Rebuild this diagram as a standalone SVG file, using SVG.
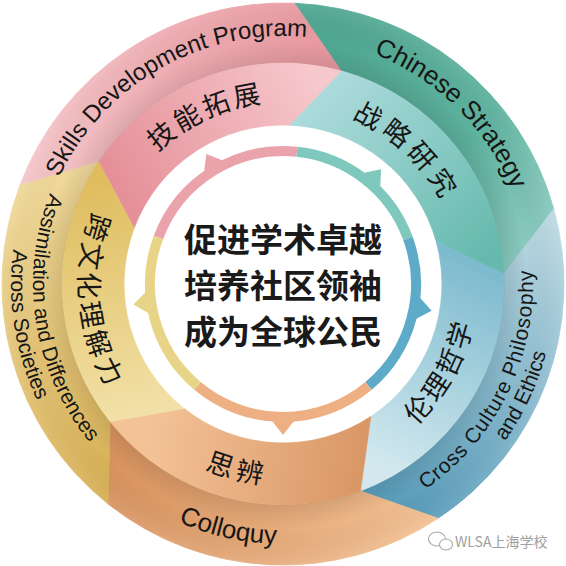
<svg xmlns="http://www.w3.org/2000/svg" width="566" height="566" viewBox="0 0 566 566">
<style>
.en{font-family:"Liberation Sans",Arial,sans-serif;fill:#161616}
.cn{font-family:"Noto Sans CJK SC","Noto Sans",sans-serif;fill:#161616;font-size:27px}
.ctr{font-family:"Noto Sans CJK SC","Noto Sans",sans-serif;font-weight:700;font-size:33px;fill:#1a1a1a;text-anchor:middle}
.ring{fill:none;stroke-width:10}
.wm{font-family:"Noto Sans CJK SC","Liberation Sans",sans-serif;font-size:14px;fill:#a0a0a0}
</style>
<defs>
<linearGradient id="gPo" gradientUnits="userSpaceOnUse" x1="30" y1="190" x2="320" y2="30"><stop offset="0" stop-color="#F5C6C9"/><stop offset="1" stop-color="#E999A1"/></linearGradient>
<linearGradient id="gPi" gradientUnits="userSpaceOnUse" x1="120" y1="200" x2="320" y2="90"><stop offset="0" stop-color="#E58F98"/><stop offset="1" stop-color="#F6C8CC"/></linearGradient>
<linearGradient id="gTo" gradientUnits="userSpaceOnUse" x1="330" y1="20" x2="540" y2="240"><stop offset="0" stop-color="#4FA791"/><stop offset="0.6" stop-color="#5DB29E"/><stop offset="1" stop-color="#8CCBC1"/></linearGradient>
<linearGradient id="gTi" gradientUnits="userSpaceOnUse" x1="320" y1="100" x2="480" y2="260"><stop offset="0" stop-color="#ABDADB"/><stop offset="1" stop-color="#66BAAD"/></linearGradient>
<linearGradient id="gBo" gradientUnits="userSpaceOnUse" x1="550" y1="220" x2="420" y2="510"><stop offset="0" stop-color="#BCD9E2"/><stop offset="1" stop-color="#5B9EBB"/></linearGradient>
<linearGradient id="gBi" gradientUnits="userSpaceOnUse" x1="470" y1="260" x2="370" y2="460"><stop offset="0" stop-color="#7DBACE"/><stop offset="1" stop-color="#D2E8EE"/></linearGradient>
<linearGradient id="gOo" gradientUnits="userSpaceOnUse" x1="440" y1="520" x2="110" y2="470"><stop offset="0" stop-color="#F3C294"/><stop offset="1" stop-color="#D8935F"/></linearGradient>
<linearGradient id="gOi" gradientUnits="userSpaceOnUse" x1="365" y1="450" x2="150" y2="415"><stop offset="0" stop-color="#DA9766"/><stop offset="1" stop-color="#F3C397"/></linearGradient>
<linearGradient id="gGo" gradientUnits="userSpaceOnUse" x1="105" y1="500" x2="25" y2="190"><stop offset="0" stop-color="#D6AF52"/><stop offset="1" stop-color="#F0D899"/></linearGradient>
<linearGradient id="gGi" gradientUnits="userSpaceOnUse" x1="160" y1="415" x2="110" y2="175"><stop offset="0" stop-color="#F2E1A8"/><stop offset="1" stop-color="#DFBD5E"/></linearGradient>
<radialGradient id="shade" gradientUnits="userSpaceOnUse" cx="283" cy="284" r="281"><stop offset="0" stop-color="#000" stop-opacity="0"/><stop offset="0.785" stop-color="#000" stop-opacity="0"/><stop offset="0.787" stop-color="#000" stop-opacity="0.09"/><stop offset="0.87" stop-color="#000" stop-opacity="0"/><stop offset="1" stop-color="#fff" stop-opacity="0.08"/></radialGradient>
<path id="tSkills" d="M49.23,366.78 A248,248 0 0 1 474.36,126.25"/>
<path id="tChinese" d="M139.28,82.10 A248,248 0 0 1 487.14,424.82"/>
<path id="tCross1" d="M214.09,524.32 A250,250 0 0 0 429.95,81.75"/>
<path id="tCross2" d="M212.60,546.73 A272,272 0 0 0 439.01,61.19"/>
<path id="tColl" d="M23.27,272.21 A260,260 0 0 0 523.03,383.92"/>
<path id="tAss1" d="M201.61,47.62 A250,250 0 0 0 278.64,533.96"/>
<path id="tAss2" d="M194.45,26.82 A272,272 0 0 0 278.25,555.96"/>
<path id="cSkills" d="M106.96,330.18 A182,182 0 0 1 432.63,180.39"/>
<path id="cStrat" d="M175.27,141.04 A179,179 0 0 1 433.12,381.49"/>
<path id="cEth" d="M219.84,467.43 A194,194 0 0 0 405.09,133.23"/>
<path id="cColl" d="M82.44,270.68 A201,201 0 0 0 466.91,365.11"/>
<path id="cCross" d="M228.83,87.32 A204,204 0 0 0 266.64,487.34"/>
</defs>
<rect width="566" height="566" fill="#fff"/>

<g id="node-skills">
<path d="M19.80,185.59 A281,281 0 0 1 295.26,3.27 L342.06,71.04 A221,221 0 0 0 98.71,162.02 Z" fill="url(#gPo)" stroke="url(#gPo)" stroke-width="0.8"/>
<path d="M98.71,162.02 A221,221 0 0 1 342.06,71.04 L289.94,125.15 A159,159 0 0 0 134.07,228.32 Z" fill="url(#gPi)" stroke="url(#gPi)" stroke-width="0.8"/>
</g>
<g id="node-strategy">
<path d="M295.26,3.27 A281,281 0 0 1 553.78,208.91 L503.79,274.36 A221,221 0 0 0 342.06,71.04 Z" fill="url(#gTo)" stroke="url(#gTo)" stroke-width="0.8"/>
<path d="M342.06,71.04 A221,221 0 0 1 503.79,274.36 L436.22,241.51 A159,159 0 0 0 289.94,125.15 Z" fill="url(#gTi)" stroke="url(#gTi)" stroke-width="0.8"/>
</g>
<g id="node-ethics">
<path d="M553.78,208.91 A281,281 0 0 1 438.10,518.32 L360.40,491.00 A221,221 0 0 0 503.79,274.36 Z" fill="url(#gBo)" stroke="url(#gBo)" stroke-width="0.8"/>
<path d="M503.79,274.36 A221,221 0 0 1 360.40,491.00 L370.76,416.59 A159,159 0 0 0 436.22,241.51 Z" fill="url(#gBi)" stroke="url(#gBi)" stroke-width="0.8"/>
</g>
<g id="node-colloquy">
<path d="M438.10,518.32 A281,281 0 0 1 108.07,503.91 L110.04,421.57 A221,221 0 0 0 360.40,491.00 Z" fill="url(#gOo)" stroke="url(#gOo)" stroke-width="0.8"/>
<path d="M360.40,491.00 A221,221 0 0 1 110.04,421.57 L184.02,408.44 A159,159 0 0 0 370.76,416.59 Z" fill="url(#gOi)" stroke="url(#gOi)" stroke-width="0.8"/>
</g>
<g id="node-assimilation">
<path d="M108.07,503.91 A281,281 0 0 1 19.80,185.59 L98.71,162.02 A221,221 0 0 0 110.04,421.57 Z" fill="url(#gGo)" stroke="url(#gGo)" stroke-width="0.8"/>
<path d="M110.04,421.57 A221,221 0 0 1 98.71,162.02 L134.07,228.32 A159,159 0 0 0 184.02,408.44 Z" fill="url(#gGi)" stroke="url(#gGi)" stroke-width="0.8"/>
</g>
<path d="M283,3 A281,281 0 1 1 282.99,3 Z M283,63 A221,221 0 1 0 283.01,63 Z" fill="url(#shade)" fill-rule="evenodd"/>

<g id="labels">
<text class="en" font-size="24"><textPath href="#tSkills" startOffset="50%" text-anchor="middle">Skills Development Program</textPath></text>
<text class="en" font-size="26"><textPath href="#tChinese" startOffset="50%" text-anchor="middle">Chinese Strategy</textPath></text>
<text class="en" font-size="21" letter-spacing="0.8"><textPath href="#tCross1" startOffset="50%" text-anchor="middle">Cross Culture Philosophy</textPath></text>
<text class="en" font-size="21"><textPath href="#tCross2" startOffset="50%" text-anchor="middle">and Ethics</textPath></text>
<text class="en" font-size="26"><textPath href="#tColl" startOffset="50%" text-anchor="middle">Colloquy</textPath></text>
<text class="en" font-size="21"><textPath href="#tAss1" startOffset="50%" text-anchor="middle">Assimilation and Differences</textPath></text>
<text class="en" font-size="21"><textPath href="#tAss2" startOffset="50%" text-anchor="middle">Across Societies</textPath></text>
<text class="cn" letter-spacing="3"><textPath href="#cSkills" startOffset="50%" text-anchor="middle">技能拓展</textPath></text>
<text class="cn" letter-spacing="5"><textPath href="#cStrat" startOffset="50%" text-anchor="middle">战略研究</textPath></text>
<text class="cn" letter-spacing="3"><textPath href="#cEth" startOffset="50%" text-anchor="middle">伦理哲学</textPath></text>
<text class="cn" letter-spacing="5"><textPath href="#cColl" startOffset="50%" text-anchor="middle">思辨</textPath></text>
<text class="cn" letter-spacing="4"><textPath href="#cCross" startOffset="50%" text-anchor="middle">跨文化理解力</textPath></text>
</g>

<g id="connectors">
<path class="ring" stroke="#EBA3AB" d="M158.42,237.42 A133,133 0 0 1 296.90,151.73"/>
<path class="ring" stroke="#7FC8BE" d="M296.90,151.73 A133,133 0 0 1 407.98,238.51"/>
<path class="ring" stroke="#5DABC9" d="M407.98,238.51 A133,133 0 0 1 368.49,385.88"/>
<path class="ring" stroke="#EEAF82" d="M368.49,385.88 A133,133 0 0 1 197.51,385.88"/>
<path class="ring" stroke="#E8D487" d="M197.51,385.88 A133,133 0 0 1 158.42,237.42"/>
<polygon fill="#EBA3AB" points="203.65,174.78 206.36,153.89 225.95,161.65"/>
<polygon fill="#7FC8BE" points="360.43,173.41 381.07,169.18 380.11,190.22"/>
<polygon fill="#5DABC9" points="417.55,295.06 431.61,310.74 412.96,320.53"/>
<polygon fill="#EEAF82" points="295.94,418.38 283,435 270.06,418.38"/>
<polygon fill="#E8D487" points="151.62,315.06 133.40,304.49 148.11,289.42"/>
</g>

<g id="node-center">
<text class="ctr" x="283" y="252">促进学术卓越</text>
<text class="ctr" x="283" y="298">培养社区领袖</text>
<text class="ctr" x="283" y="344">成为全球公民</text>
</g>

<g id="watermark" fill="#fff" stroke="#a8a8a8" stroke-width="1.1">
<ellipse cx="437" cy="539" rx="8.5" ry="7"/>
<ellipse cx="446" cy="544.5" rx="6.5" ry="5.5"/>
<text class="wm" x="455" y="547" stroke="none">WLSA上海学校</text>
</g>
</svg>
